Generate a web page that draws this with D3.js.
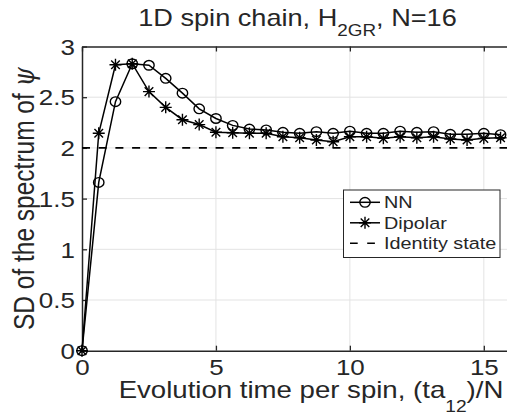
<!DOCTYPE html>
<html>
<head>
<meta charset="utf-8">
<script src="https://cdn.jsdelivr.net/npm/d3@7"></script>
<style>
body { margin: 0; background: #fff; }
svg { display: block; }
text { font-family: "Liberation Sans", Arial, Helvetica, sans-serif; fill: #262626; }
</style>
</head>
<body>
<svg id="chart" width="507" height="416"></svg>
<script>
// evolution time per spin, (t a_12)/N
let times = [0, 0.625, 1.25, 1.875, 2.5, 3.125, 3.75, 4.375, 5, 5.625, 6.25, 6.875, 7.5,
    8.125, 8.75, 9.375, 10, 10.625, 11.25, 11.875, 12.5, 13.125, 13.75, 14.375, 15, 15.625];
// SD of the spectrum of psi
let nn_sd = [0, 1.66, 2.456, 2.83, 2.815, 2.686, 2.54, 2.385, 2.29, 2.222, 2.186, 2.177, 2.154,
    2.144, 2.16, 2.144, 2.165, 2.144, 2.144, 2.165, 2.154, 2.16, 2.134, 2.134, 2.144, 2.13];
let dipolar_sd = [0, 2.144, 2.82, 2.83, 2.555, 2.40, 2.278, 2.23, 2.155, 2.15, 2.144, 2.144, 2.11,
    2.10, 2.078, 2.06, 2.11, 2.11, 2.094, 2.11, 2.10, 2.11, 2.088, 2.078, 2.094, 2.10];
let identity_sd = 2;

let x_ticks = [0, 5, 10, 15];
let y_ticks = [0, 0.5, 1, 1.5, 2, 2.5, 3];
let legend_labels = ["NN", "Dipolar", "Identity state"];

class SpinChainVis {

    constructor(svg_id) {
        this.svg_id = svg_id;
        // the original figure was exported a bit wider than tall, text looks stretched
        this.sx = 1.18;
        this.render();
    }
    render() {
        let svg = d3.select("#" + this.svg_id);
        let axis_color = "#262626";
        let sx = this.sx;

        let x = d3.scaleLinear().domain([0, 16]).range([82, 510.6]);
        let y = d3.scaleLinear().domain([0, 3]).range([350.7, 46.5]);

        // grid
        svg.selectAll(".xgrid").data(x_ticks.slice(1))
            .enter().append("line")
            .attr("x1", function(d) {return x(d);})
            .attr("x2", function(d) {return x(d);})
            .attr("y1", y(0)).attr("y2", y(3))
            .style("stroke", "#e3e3e3").style("stroke-width", 1);
        svg.selectAll(".ygrid").data(y_ticks.slice(1, -1))
            .enter().append("line")
            .attr("x1", x(0)).attr("x2", x(16))
            .attr("y1", function(d) {return y(d);})
            .attr("y2", function(d) {return y(d);})
            .style("stroke", "#e3e3e3").style("stroke-width", 1);

        // axes with inward ticks
        let xAxis = svg.append("g")
            .attr("transform", "translate(0," + y(0) + ")")
            .call(d3.axisBottom(x).tickValues(x_ticks).tickSizeInner(-5).tickSizeOuter(0));
        let xTop = svg.append("g")
            .attr("transform", "translate(0," + y(3) + ")")
            .call(d3.axisTop(x).tickValues(x_ticks).tickSizeInner(-5).tickSizeOuter(0).tickFormat(""));
        let yAxis = svg.append("g")
            .attr("transform", "translate(" + x(0) + ",0)")
            .call(d3.axisLeft(y).tickValues(y_ticks).tickSizeInner(-5).tickSizeOuter(0)
                .tickFormat(d3.format("~g")));

        [xAxis, xTop, yAxis].forEach(function(g) {
            g.select(".domain").style("stroke", axis_color).style("stroke-width", 1.5);
            g.selectAll(".tick line").style("stroke", axis_color).style("stroke-width", 1.3);
            g.selectAll(".tick text").style("font-size", "22px").style("fill", axis_color)
                .style("font-family", "'Liberation Sans', Arial, sans-serif")
                .attr("transform", "scale(" + sx + ",1)");
        });
        xAxis.selectAll(".tick text").attr("y", 8).attr("dy", "0.72em");
        yAxis.selectAll(".tick text").attr("x", -6).attr("dy", "0.35em");

        // identity state reference
        svg.append("line")
            .attr("x1", x(0)).attr("x2", x(16))
            .attr("y1", y(identity_sd)).attr("y2", y(identity_sd))
            .style("stroke", "#000").style("stroke-width", 1.6)
            .style("stroke-dasharray", "8,8.7");

        let line = d3.line()
            .x(function(d) {return x(d[0]);})
            .y(function(d) {return y(d[1]);});

        let nn_pts = d3.zip(times, nn_sd);
        let dip_pts = d3.zip(times, dipolar_sd);

        svg.append("path").datum(nn_pts)
            .attr("d", line)
            .style("fill", "none").style("stroke", "#000").style("stroke-width", 1.5);
        svg.append("path").datum(dip_pts)
            .attr("d", line)
            .style("fill", "none").style("stroke", "#000").style("stroke-width", 1.5);

        let star = "M-6,0L6,0M0,-6L0,6M-4.3,-4.3L4.3,4.3M-4.3,4.3L4.3,-4.3";

        svg.selectAll(".nn_dot").data(nn_pts)
            .enter().append("ellipse")
            .attr("cx", function(d) {return x(d[0]);})
            .attr("cy", function(d) {return y(d[1]);})
            .attr("rx", 5.2).attr("ry", 4.8)
            .style("fill", "none").style("stroke", "#000").style("stroke-width", 1.4);
        svg.selectAll(".dip_star").data(dip_pts)
            .enter().append("path")
            .attr("d", star)
            .attr("transform", function(d) {return "translate(" + x(d[0]) + "," + y(d[1]) + ")";})
            .style("fill", "none").style("stroke", "#000").style("stroke-width", 1.4);

        // legend
        let lg = svg.append("g").attr("transform", "translate(343.5,190)");
        lg.append("rect")
            .attr("width", 156.5).attr("height", 67.5)
            .style("fill", "#fff").style("stroke", "#262626").style("stroke-width", 1);
        let rows = lg.selectAll(".lrow").data(legend_labels)
            .enter().append("g")
            .attr("transform", function(d, i) {return "translate(0," + (12.3 + i * 20.5) + ")";});
        rows.append("line")
            .attr("x1", 6.5).attr("x2", 36.5)
            .style("stroke", "#000").style("stroke-width", 1.5)
            .style("stroke-dasharray", function(d, i) {return i == 2 ? "7.7,9.5" : null;});
        rows.filter(function(d, i) {return i == 0;}).append("ellipse")
            .attr("cx", 21.5).attr("rx", 5.2).attr("ry", 4.8)
            .style("fill", "none").style("stroke", "#000").style("stroke-width", 1.4);
        rows.filter(function(d, i) {return i == 1;}).append("path")
            .attr("d", star).attr("transform", "translate(21.5,0)")
            .style("fill", "none").style("stroke", "#000").style("stroke-width", 1.4);
        rows.append("text")
            .attr("transform", "translate(40.5,0) scale(" + sx + ",1)")
            .attr("dy", "0.36em")
            .style("font-size", "16.8px")
            .text(function(d) {return d;});

        // title
        let title = svg.append("text")
            .attr("transform", "translate(297.5,26) scale(" + sx + ",1)")
            .attr("text-anchor", "middle")
            .style("font-size", "23px");
        title.append("tspan").text("1D spin chain, H");
        title.append("tspan").attr("dy", 10).style("font-size", "16px").text("2GR");
        title.append("tspan").attr("dy", -10).text(", N=16");

        // x label
        let xlab = svg.append("text")
            .attr("transform", "translate(311,398) scale(1.2,1)")
            .attr("text-anchor", "middle")
            .style("font-size", "23px");
        xlab.append("tspan").text("Evolution time per spin, (ta");
        xlab.append("tspan").attr("dy", 14).style("font-size", "16px").text("12");
        xlab.append("tspan").attr("dy", -14).text(")/N");

        // y label
        let ylab = svg.append("text")
            .attr("transform", "translate(34," + y(1.5) + ") scale(" + sx + ",1) rotate(-90)")
            .attr("text-anchor", "middle")
            .style("font-size", "24.5px");
        ylab.append("tspan").text("SD of the spectrum of ");
        ylab.append("tspan").style("font-family", "'DejaVu Serif', serif")
            .style("font-style", "italic").text("ψ");
    }
}

let vis = new SpinChainVis("chart");
</script>
</body>
</html>
